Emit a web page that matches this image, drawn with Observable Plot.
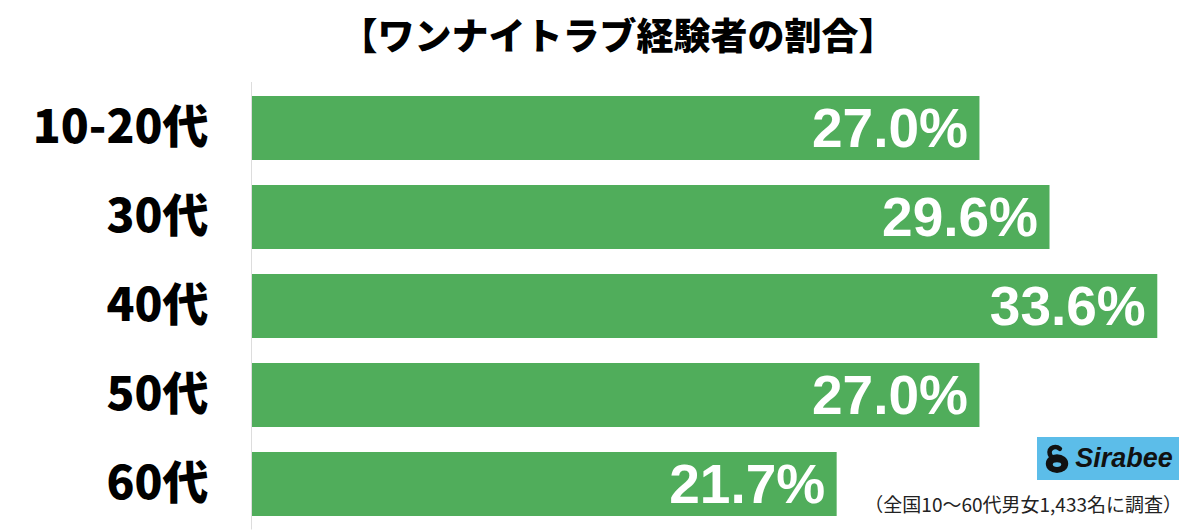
<!DOCTYPE html>
<html><head><meta charset="utf-8">
<script src="https://cdn.jsdelivr.net/npm/d3@7"></script>
<script src="https://cdn.jsdelivr.net/npm/@observablehq/plot@0.6"></script>
<style>
body{margin:0;width:1200px;height:532px;position:relative;background:#fff;overflow:hidden;font-family:"Noto Sans CJK JP",sans-serif}
#title{position:absolute;top:0;left:18px;width:1200px;height:68px;text-align:center;font-size:37px;font-weight:900;line-height:68px;color:#000}
#chart{position:absolute;top:80px;left:0}
#logo{position:absolute;left:1037px;top:437px;width:142px;height:43px;background:#5cbde9;display:flex;align-items:center;justify-content:center;gap:4px}
#logo svg{flex-shrink:0}
#logo span{font-family:"Liberation Sans",sans-serif;font-weight:bold;font-style:italic;font-size:27px;color:#111;white-space:nowrap}
#caption{position:absolute;right:18px;top:490px;font-size:19px;color:#222;white-space:nowrap}
</style></head>
<body>
<div id="title">【ワンナイトラブ経験者の割合】</div>
<div id="chart"></div>
<div id="logo"><svg width="28" height="32" viewBox="0 0 30 32"><ellipse cx="15" cy="21" rx="12" ry="10" fill="#111"/><path d="M9 14 C3 6, 12 0, 18 5" stroke="#111" stroke-width="5" fill="none" stroke-linecap="round"/><ellipse cx="15" cy="22" rx="4.5" ry="2.5" fill="#5cbde9"/></svg><span>Sirabee</span></div>
<div id="caption">（全国10～60代男女1,433名に調査）</div>
<script>
const categories = ["10-20代", "30代", "40代", "50代", "60代"];
const values = [27.0, 29.6, 33.6, 27.0, 21.7];
const valueLabels = ["27.0%", "29.6%", "33.6%", "27.0%", "21.7%"];
const data = categories.map((c, i) => ({cat: c, value: values[i], label: valueLabels[i]}));

const chart = Plot.plot({
  width: 1200,
  height: 452,
  marginLeft: 252,
  marginRight: 5,
  marginTop: 2,
  marginBottom: 2.5,
  style: {fontFamily: '"Noto Sans CJK JP", sans-serif', color: "#000", background: "transparent"},
  x: {domain: [0, 35], axis: null},
  y: {domain: categories, paddingInner: 0.285, paddingOuter: 0.1425, label: null, axis: null},
  marks: [
    Plot.barX(data, {x: "value", y: "cat", fill: "#50ad5b"}),
    Plot.ruleX([0], {stroke: "#dddddd", dx: -1}),
    Plot.text(data, {x: "value", y: "cat", text: "label", textAnchor: "end", dx: -12, dy: 1, fill: "white", fontSize: 55, fontWeight: "bold", fontFamily: "Liberation Sans, sans-serif"}),
    Plot.axisY({tickSize: 0, tickPadding: 44, fontSize: 46, fontWeight: 900, label: null})
  ]
});
document.getElementById("chart").appendChild(chart);
</script>
</body></html>
